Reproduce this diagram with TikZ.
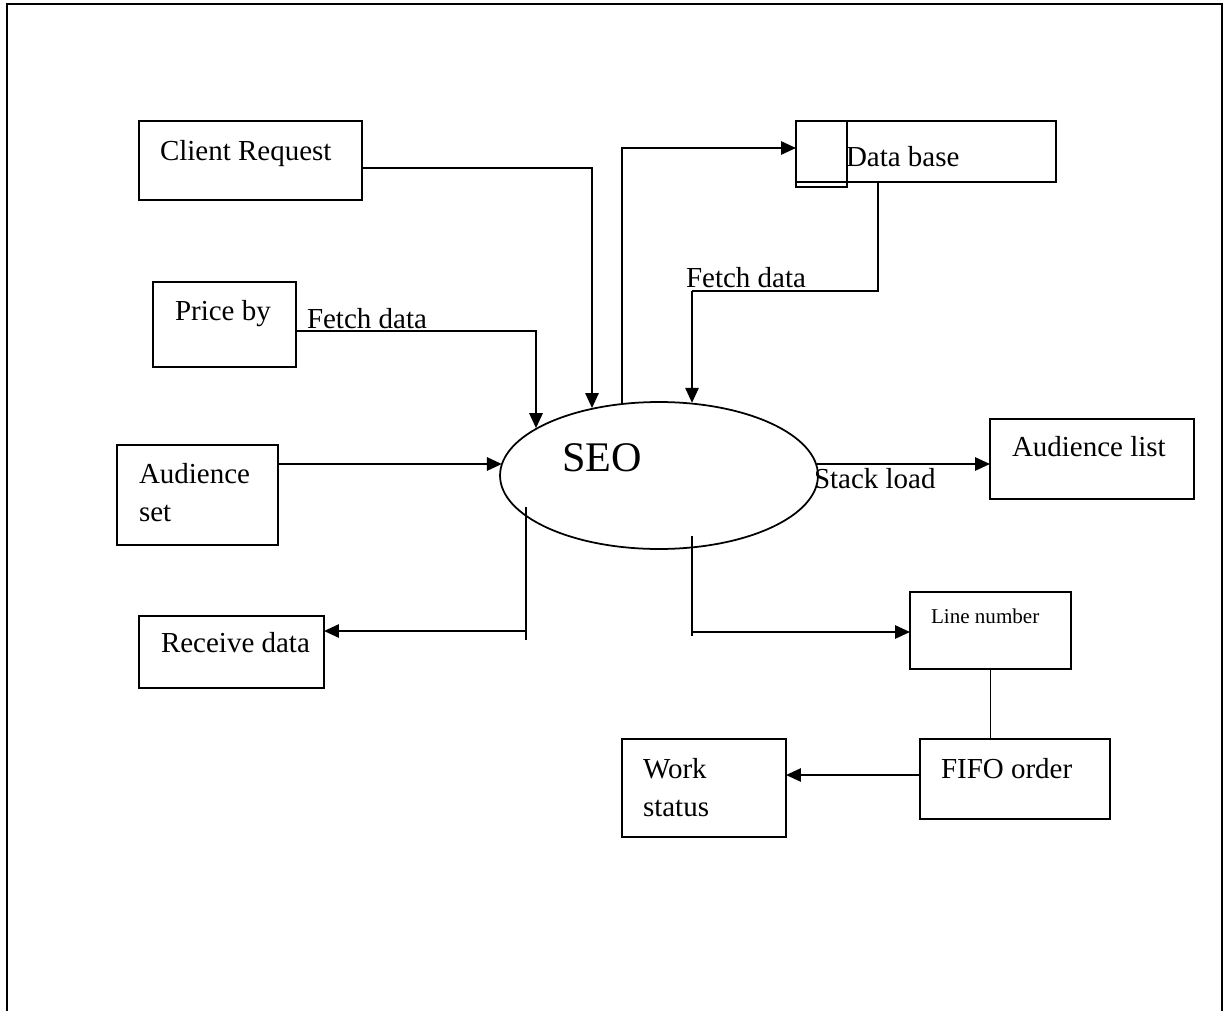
\documentclass[tikz,border=0pt]{standalone}
\usepackage{fontspec}
\setmainfont{Liberation Serif}
\usetikzlibrary{arrows.meta,shapes.geometric,fit,calc}
\begin{document}
\begin{tikzpicture}[x=0.02cm,y=-0.02cm,
  box/.style={draw,line width=1pt,rectangle,inner sep=0pt,outer sep=0pt},
  txt/.style={anchor=base west,inner sep=0pt,outer sep=0pt,font=\fontsize{16.5}{19}\selectfont},
  link/.style={line width=0.9pt},
  arr/.style={line width=1.25pt,-{Triangle[length=8.5pt,width=7.5pt]}}]
\useasboundingbox (0,0) rectangle (1230,1011);

% page frame (open at the bottom)
\draw[line width=0.9pt] (7,1011) -- (7,4);
\draw[line width=0.9pt] (1222,1011) -- (1222,4);
\draw[line width=1.5pt] (6,4) -- (1223,4);

% process
\node[draw,ellipse,line width=1pt,inner sep=0pt,minimum width=6.36cm,minimum height=2.94cm] (seo) at (659,475.5) {};

% external entities and stores
\node[box,fit={(139,121)(362,200)}] (client) {};
\node[box,fit={(153,282)(296,367)}] (price) {};
\node[box,fit={(117,445)(278,545)}] (aset) {};
\node[box,fit={(139,616)(324,688)}] (rcv) {};
\node[box,fit={(796,121)(1056,182)}] (db) {};
\node[box,fit={(796,121)(847,187)}] (dbtab) {};
\node[box,fit={(990,419)(1194,499)}] (alist) {};
\node[box,fit={(910,592)(1071,669)}] (lnum) {};
\node[box,fit={(920,739)(1110,819)}] (fifo) {};
\node[box,fit={(622,739)(786,837)}] (work) {};

% texts
\node[txt] (clientT) at (160,160) {Client Request};
\node[txt] (priceT) at (175,320) {Price by};
\node[txt] (fetchA) at (307,328) {Fetch data};
\node[txt] (asetA) at (139,483) {Audience};
\node[txt] (asetB) at (139,521) {set};
\node[txt,font=\fontsize{24}{28}\selectfont] (seoT) at (562,471) {SEO};
\node[txt] (dbT) at (846,166) {Data base};
\node[txt] (fetchB) at (686,287) {Fetch data};
\node[txt] (stackT) at (814,488) {Stack load};
\node[txt] (alistT) at (1012,456) {Audience list};
\node[txt] (rcvT) at (161,652) {Receive data};
\node[txt,font=\fontsize{12}{14}\selectfont] (lnumT) at (931,623) {Line number};
\node[txt] (fifoT) at (941,778) {FIFO order};
\node[txt] (workA) at (643,778) {Work};
\node[txt] (workB) at (643,816) {status};

% route points
\coordinate (c1) at (592,168);
\coordinate (c2) at (536,331);
\coordinate (a1) at (400,464);
\coordinate (c4) at (622,148);
\coordinate (c5) at (878,291);
\coordinate (c6) at (692,291);
\coordinate (r1) at (526,507);
\coordinate (r2) at (526,640);
\coordinate (r3) at (526,631);
\coordinate (l1) at (692,536);
\coordinate (l2) at (692,636);
\coordinate (l3) at (692,632);
\coordinate (f1) at (900,775);

% connectors
\draw[arr] (client.east |- c1) -- (c1) -- (c1 |- seo.135.1);
\draw[arr] (price.east |- c2) -- (c2) -- (c2 |- seo.159.25);
\draw[arr] (aset.east |- a1) -- (a1 -| seo.175.8);
\draw[arr] (c4 |- seo.117.4) -- (c4) -- (db.west |- c4);
\draw[link] (db.south -| c5) -- (c5) -- (c6);
\draw[arr] (c6) -- (c6 |- seo.65.35);
\draw[arr] (seo.4.19 |- a1) -- (alist.west |- a1);
\draw[link] (r1) -- (r2);
\draw[arr] (r3) -- (rcv.east |- r3);
\draw[link] (l1) -- (l2);
\draw[arr] (l3) -- (lnum.west |- l3);
\draw[link] (lnum.south) -- (lnum.south |- fifo.north);
\draw[arr] (fifo.west |- f1) -- (work.east |- f1);
\end{tikzpicture}
\end{document}
